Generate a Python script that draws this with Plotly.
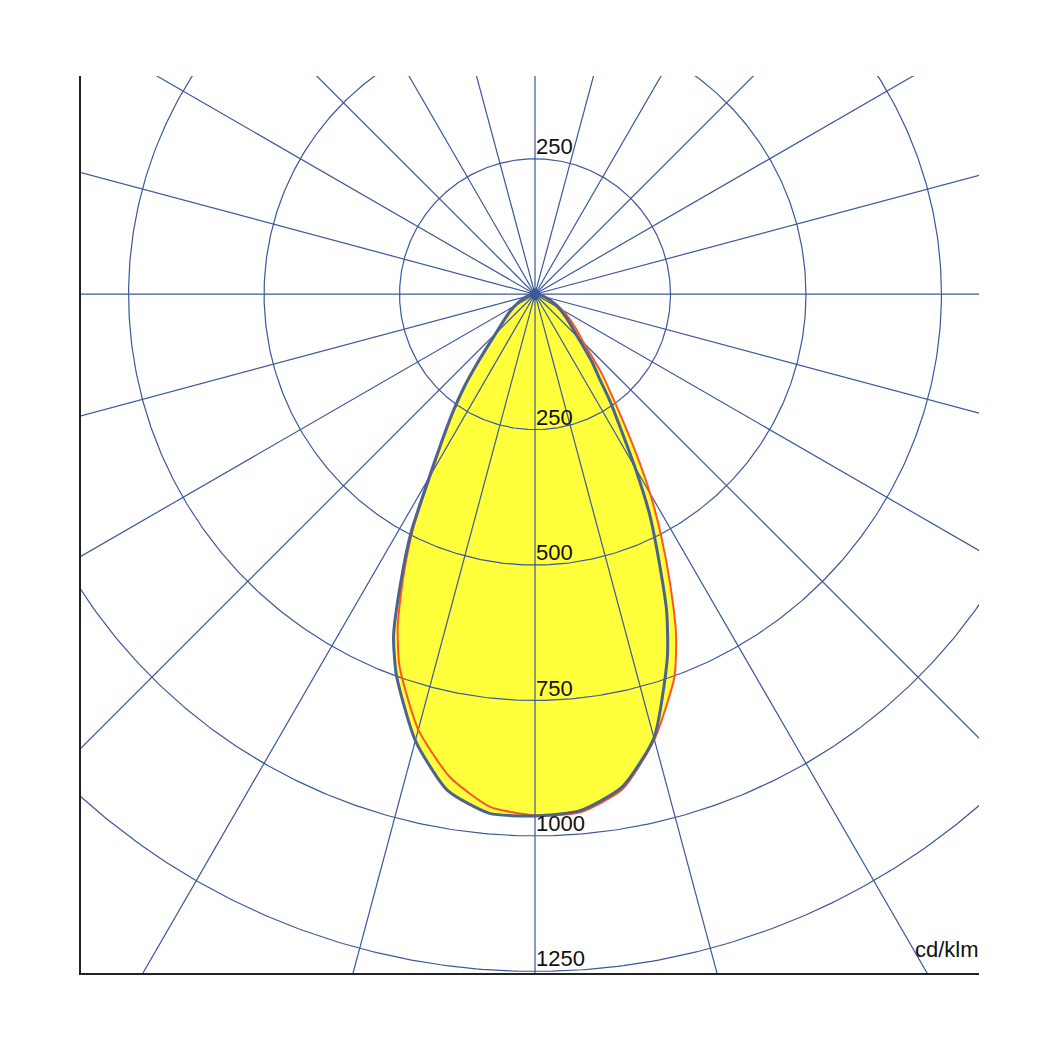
import numpy as np
import plotly.graph_objects as go

# Gamma angles (degrees from nadir) and luminous intensities (cd/klm)
gamma = [0, 5, 10, 15, 20, 22.5, 25, 27.5, 30, 32.5, 35, 37.5, 40, 45, 50, 55, 60, 65, 70, 75, 80, 85, 90]
c180 = [963, 962, 930, 853, 748, 682, 586, 495, 391, 318, 263, 213, 165, 103, 75, 58, 43, 32, 22, 14, 8, 3, 0]
c0 = [963, 957, 924, 848, 714, 635, 540, 458, 369, 294, 242, 194, 164, 111, 84, 65, 50, 36, 25, 16, 9, 4, 0]
c270 = [962, 950, 905, 832, 731, 662, 575, 487, 384, 314, 259, 209, 161, 100, 72, 55, 41, 30, 21, 13, 7, 3, 0]
c90 = [964, 960, 928, 851, 752, 680, 590, 505, 425, 346, 279, 229, 192, 128, 98, 76, 58, 42, 29, 18, 10, 4, 0]

ring_values = [250, 500, 750, 1000, 1250]
ring_labels_down = [250, 500, 750, 1000, 1250]
ring_labels_up = [250]
spoke_step = 15
unit_label = "cd/klm"

GRID = "#3b5899"
CURVE_BLUE = "#4c6390"
CURVE_RED = "#ff5426"
FILL = "#ffff3c"


def plane_xy(left_vals, right_vals):
    g = np.radians(np.array(gamma, dtype=float))
    lv = np.array(left_vals, dtype=float)
    rv = np.array(right_vals, dtype=float)
    xl = -lv * np.sin(g)
    yl = -lv * np.cos(g)
    xr = rv * np.sin(g)
    yr = -rv * np.cos(g)
    x = np.concatenate([xl[::-1], xr[1:]])
    y = np.concatenate([yl[::-1], yr[1:]])
    return x, y


bx, by = plane_xy(c180, c0)
rx, ry = plane_xy(c270, c90)

fig = go.Figure()

# yellow fills
for x, y in [(rx, ry), (bx, by)]:
    fig.add_trace(go.Scatter(x=x, y=y, mode="lines", fill="toself", fillcolor=FILL,
                             line=dict(width=0, color=FILL, shape="spline", smoothing=0.6),
                             hoverinfo="skip", showlegend=False))

# grid rings
t = np.linspace(0, 2 * np.pi, 721)
for rv in ring_values:
    fig.add_trace(go.Scatter(x=rv * np.cos(t), y=rv * np.sin(t), mode="lines",
                             line=dict(color=GRID, width=1.2), hoverinfo="skip", showlegend=False))

# spokes
far = 3000
for a in range(0, 360, spoke_step):
    ar = np.radians(a)
    fig.add_trace(go.Scatter(x=[0, far * np.cos(ar)], y=[0, far * np.sin(ar)], mode="lines",
                             line=dict(color=GRID, width=1.2), hoverinfo="skip", showlegend=False))

# curves
fig.add_trace(go.Scatter(x=rx, y=ry, mode="lines",
                         line=dict(color=CURVE_RED, width=2, shape="spline", smoothing=0.6),
                         hoverinfo="skip", showlegend=False))
fig.add_trace(go.Scatter(x=bx, y=by, mode="lines",
                         line=dict(color=CURVE_BLUE, width=3, shape="spline", smoothing=0.6),
                         hoverinfo="skip", showlegend=False))

# center dot
fig.add_trace(go.Scatter(x=[0], y=[0], mode="markers",
                         marker=dict(symbol="diamond", size=10, color="#3b5899"),
                         hoverinfo="skip", showlegend=False))

FONT = dict(family="Liberation Sans, Arial, sans-serif", size=22, color="#111111")
for v in ring_labels_down:
    fig.add_annotation(x=0, y=-v, text=str(v), showarrow=False, xanchor="left", yanchor="bottom",
                       xshift=-1, yshift=-2, font=FONT)
for v in ring_labels_up:
    fig.add_annotation(x=0, y=v, text=str(v), showarrow=False, xanchor="left", yanchor="bottom",
                       xshift=-1, yshift=-2, font=FONT)
fig.add_annotation(x=1, y=0, xref="paper", yref="paper", text=unit_label, showarrow=False,
                   xanchor="right", yanchor="bottom", xshift=2, yshift=9, font=FONT)

fig.update_layout(
    width=1054, height=1054,
    margin=dict(l=73, r=83, t=68, b=89),
    paper_bgcolor="white", plot_bgcolor="white",
    xaxis=dict(range=[-837.8, 819.3], showgrid=False, zeroline=False, showticklabels=False,
               ticks="", showline=True, linecolor="#222222", linewidth=2),
    yaxis=dict(range=[-1253, 402.8], showgrid=False, zeroline=False, showticklabels=False,
               ticks="", showline=True, linecolor="#222222", linewidth=2),
)

fig.write_html("out.html")
